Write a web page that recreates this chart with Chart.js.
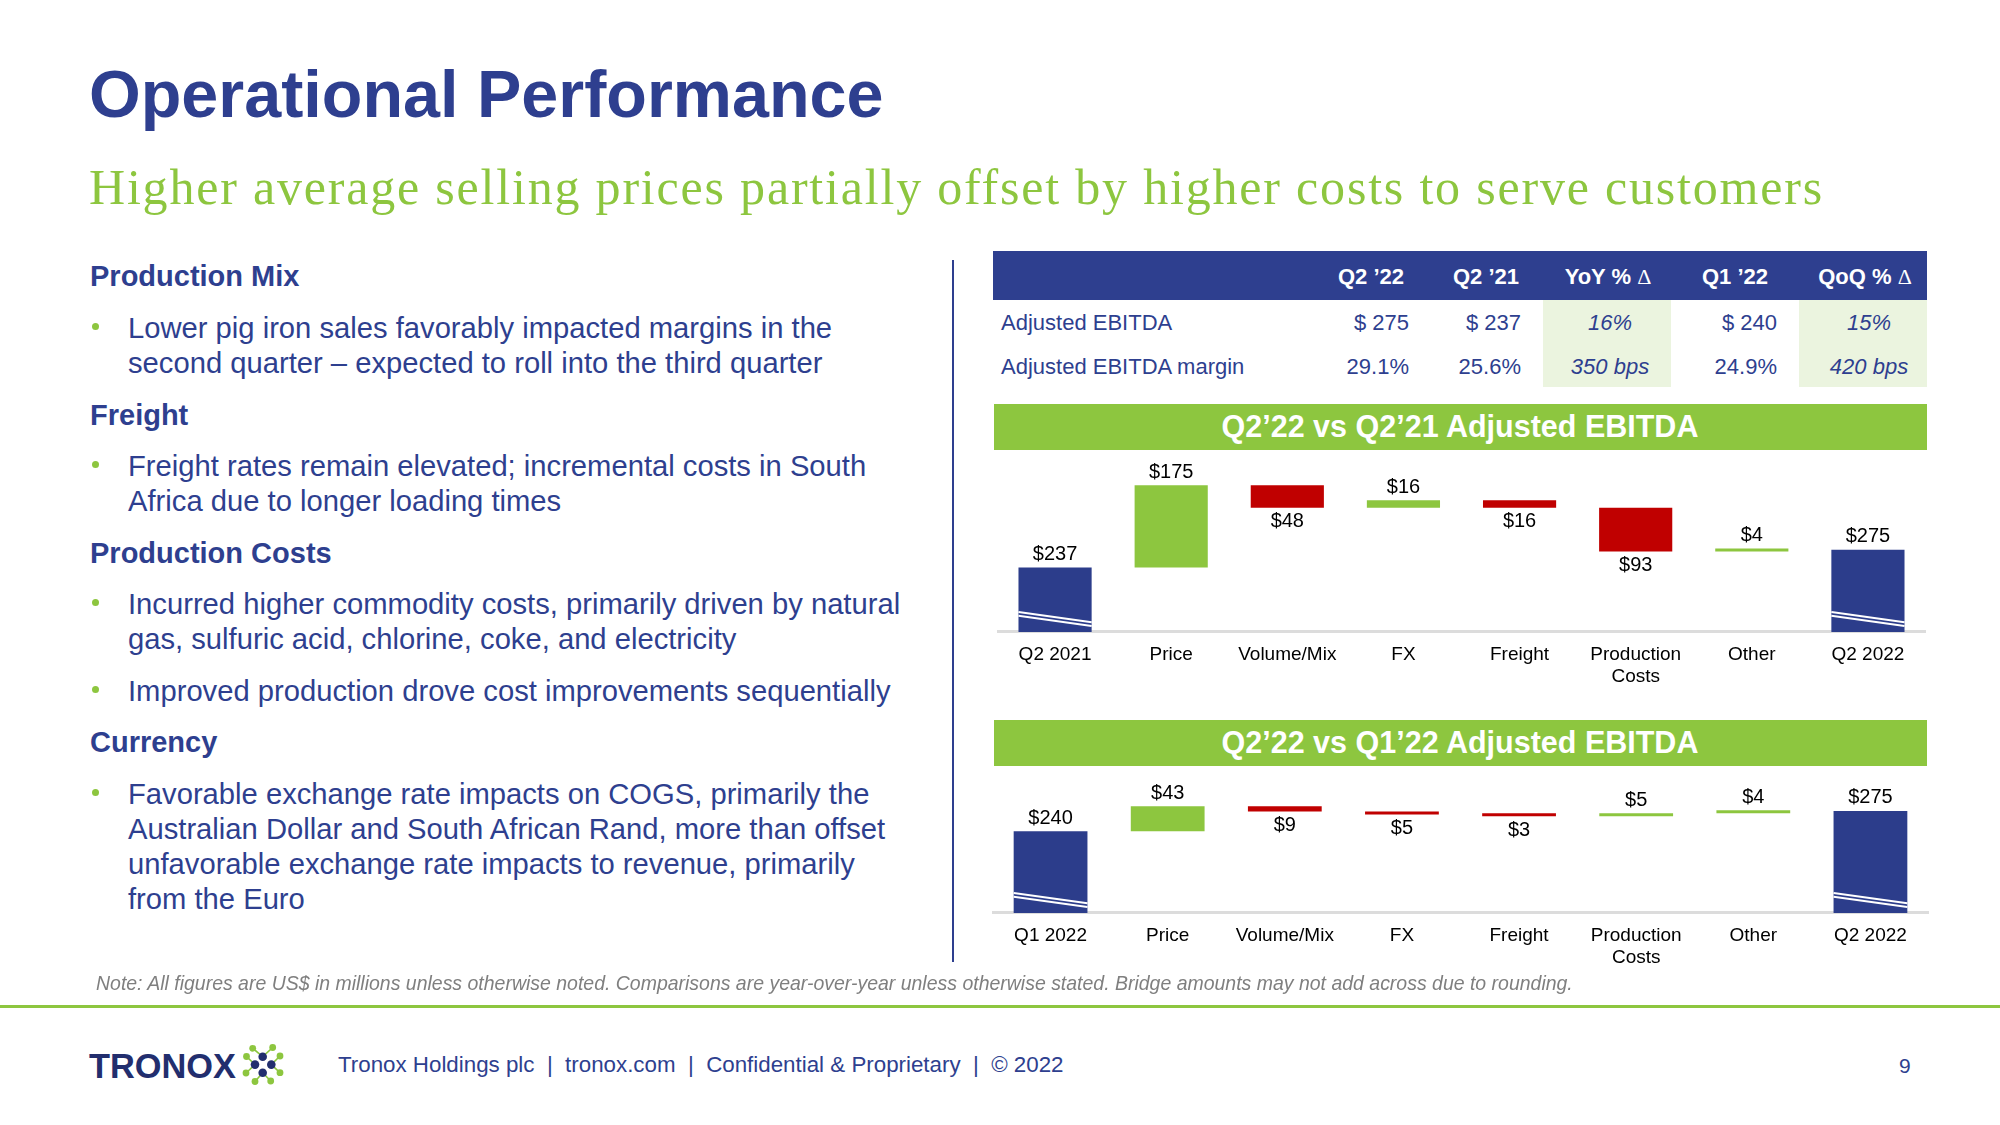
<!DOCTYPE html>
<html><head><meta charset="utf-8">
<script src="https://cdn.jsdelivr.net/npm/chart.js@4.4.1/dist/chart.umd.min.js"></script>
<style>
html,body{margin:0;padding:0;background:#fff;}
#page{position:relative;width:2000px;height:1125px;overflow:hidden;background:#fff;}
.box{position:absolute;}
</style></head><body><div id="page"></div>
<script>
// ---------------- data ----------------
const TITLE = 'Operational Performance';
const SUBTITLE = 'Higher average selling prices partially offset by higher costs to serve customers';

const TABLE_HEADERS = ['Q2 ’22', 'Q2 ’21', 'YoY %', 'Q1 ’22', 'QoQ %'];
const TABLE_ROW_LABELS = ['Adjusted EBITDA', 'Adjusted EBITDA margin'];
const TABLE_EBITDA = ['$ 275', '$ 237', '16%', '$ 240', '15%'];
const TABLE_MARGIN = ['29.1%', '25.6%', '350 bps', '24.9%', '420 bps'];

const BRIDGE1_TITLE = 'Q2’22 vs Q2’21 Adjusted EBITDA';
const BRIDGE1_CATEGORIES = ['Q2 2021', 'Price', 'Volume/Mix', 'FX', 'Freight', ['Production', 'Costs'], 'Other', 'Q2 2022'];
const BRIDGE1_START = 237;
const BRIDGE1_DELTAS = [175, -48, 16, -16, -93, 4];
const BRIDGE1_END = 275;

const BRIDGE2_TITLE = 'Q2’22 vs Q1’22 Adjusted EBITDA';
const BRIDGE2_CATEGORIES = ['Q1 2022', 'Price', 'Volume/Mix', 'FX', 'Freight', ['Production', 'Costs'], 'Other', 'Q2 2022'];
const BRIDGE2_START = 240;
const BRIDGE2_DELTAS = [43, -9, -5, -3, 5, 4];
const BRIDGE2_END = 275;

const AXIS1_MIN = 100, AXIS1_MAX = 487;
const AXIS2_MIN = 100, AXIS2_MAX = 352;

const LEFT_TEXT = [
  ['h', 'Production Mix'],
  ['b', 'Lower pig iron sales favorably impacted margins in the'],
  ['c', 'second quarter – expected to roll into the third quarter'],
  ['h', 'Freight'],
  ['b', 'Freight rates remain elevated; incremental costs in South'],
  ['c', 'Africa due to longer loading times'],
  ['h', 'Production Costs'],
  ['b', 'Incurred higher commodity costs, primarily driven by natural'],
  ['c', 'gas, sulfuric acid, chlorine, coke, and electricity'],
  ['b', 'Improved production drove cost improvements sequentially'],
  ['h', 'Currency'],
  ['b', 'Favorable exchange rate impacts on COGS, primarily the'],
  ['c', 'Australian Dollar and South African Rand, more than offset'],
  ['c', 'unfavorable exchange rate impacts to revenue, primarily'],
  ['c', 'from the Euro']
];
const NOTE = 'Note: All figures are US$ in millions unless otherwise noted. Comparisons are year-over-year unless otherwise stated. Bridge amounts may not add across due to rounding.';
const FOOTER = 'Tronox Holdings plc  |  tronox.com  |  Confidential & Proprietary  |  © 2022';
const PAGE_NO = '9';

// ---------------- styles ----------------
const SANS = '"Liberation Sans", Arial, Helvetica, sans-serif';
const SERIF = '"Liberation Serif", "Times New Roman", serif';
const BLUE = '#2E3F8F';
const NAVY = '#2C3D8B';
const GREEN = '#8DC63F';
const RED = '#C00000';
const CELL_GREEN = '#EBF4DF';
const AXIS_COLOR = '#DCDCDC';

const page = document.getElementById('page');

function rect(x, y, w, h, color) {
  const d = document.createElement('div');
  d.className = 'box';
  d.style.cssText += `left:${x}px;top:${y}px;width:${w}px;height:${h}px;background:${color};`;
  page.appendChild(d);
  return d;
}

function txt(str, x, base, size, o = {}) {
  const d = document.createElement('div');
  if (o.html) d.innerHTML = str; else d.textContent = str;
  const fam = o.family || SANS;
  d.style.cssText = `position:absolute;white-space:nowrap;line-height:1;font-family:${fam};font-size:${size}px;font-weight:${o.bold ? 'bold' : 'normal'};font-style:${o.italic ? 'italic' : 'normal'};color:${o.color || BLUE};`;
  page.appendChild(d);
  if (o.fitW) {
    const w0 = d.getBoundingClientRect().width;
    size = size * o.fitW / w0;
    d.style.fontSize = size + 'px';
  }
  if (o.spaceW) {
    const w0 = d.getBoundingClientRect().width;
    d.style.letterSpacing = ((o.spaceW - w0) / d.textContent.length) + 'px';
  }
  const k = o.k || 0.8465;
  const w = d.getBoundingClientRect().width;
  let left = x;
  if (o.align === 'right') left = x - w;
  else if (o.align === 'center') left = x - w / 2;
  d.style.left = left + 'px';
  d.style.top = (base - k * size) + 'px';
  return d;
}

// ---------------- header ----------------
txt(TITLE, 89, 117, 66.5, { bold: true, color: BLUE });
txt(SUBTITLE, 89, 204, 50, { family: SERIF, color: GREEN, k: 0.8375, spaceW: 1735 });

// ---------------- left column ----------------
const LEFT_BASES = [287, 339, 374, 426, 477, 512, 564, 615, 650, 702, 753, 805, 840, 875, 910];
LEFT_TEXT.forEach(([kind, s], i) => {
  const b = LEFT_BASES[i];
  if (kind === 'h') {
    txt(s, 90, b, 29, { bold: true });
  } else {
    txt(s, 128, b, 29.2);
    if (kind === 'b') {
      const dot = rect(92, b - 16, 7, 7, GREEN);
      dot.style.borderRadius = '50%';
    }
  }
});
rect(952, 260, 2, 702, BLUE);

// ---------------- table ----------------
rect(993, 251, 934, 49, BLUE);
rect(1543, 300, 128, 87, CELL_GREEN);
rect(1799, 300, 128, 87, CELL_GREEN);
const COL_X = [1404, 1519, 1608, 1768, 1865];
const COL_ALIGN = ['right', 'right', 'center', 'right', 'center'];
const VAL_X = [1409, 1521, 1610, 1777, 1869];
TABLE_HEADERS.forEach((h, i) => {
  const delta = (i === 2 || i === 4);
  const html = delta ? h + ' <span style="font-weight:normal;font-family:' + SERIF.replace(/"/g, "'") + '">Δ</span>' : h;
  txt(html, COL_X[i], 285, 22, { bold: true, color: '#fff', align: COL_ALIGN[i], html: true });
});
TABLE_ROW_LABELS.forEach((l, r) => {
  const base = r === 0 ? 331 : 375;
  txt(l, 1001, base, 22);
  const row = r === 0 ? TABLE_EBITDA : TABLE_MARGIN;
  row.forEach((v, i) => {
    const it = (i === 2 || i === 4);
    txt(v, VAL_X[i], base, 22, { align: it ? 'center' : 'right', italic: it });
  });
});

// ---------------- bridge title bars ----------------
rect(994, 404, 933, 46, GREEN);
txt(BRIDGE1_TITLE, 1460, 437, 29, { bold: true, color: '#fff', align: 'center', fitW: 477 });
rect(994, 720, 933, 46, GREEN);
txt(BRIDGE2_TITLE, 1460, 753, 29, { bold: true, color: '#fff', align: 'center', fitW: 477 });

// ---------------- bridge charts ----------------
function bridgeData(start, deltas, end, axisMin) {
  const ranges = [[axisMin, start]];
  const values = [start];
  const kinds = ['total'];
  let cum = start;
  deltas.forEach(d => {
    ranges.push([cum, cum + d]);
    values.push(d);
    kinds.push(d >= 0 ? 'pos' : 'neg');
    cum += d;
  });
  ranges.push([axisMin, end]);
  values.push(end);
  kinds.push('total');
  return { ranges, values, kinds };
}

function makeBridge(x, y, w, h, cats, bd, amin, amax) {
  const c = document.createElement('canvas');
  c.width = w; c.height = h;
  c.style.cssText = `position:absolute;left:${x}px;top:${y}px;width:${w}px;height:${h}px;`;
  page.appendChild(c);
  const colors = bd.kinds.map(k => k === 'total' ? NAVY : (k === 'pos' ? GREEN : RED));
  const labelPlugin = {
    id: 'bridgeLabels',
    afterDatasetsDraw(chart) {
      const ctx = chart.ctx;
      const meta = chart.getDatasetMeta(0);
      ctx.save();
      ctx.font = '20px ' + SANS;
      ctx.fillStyle = '#000';
      ctx.textAlign = 'center';
      ctx.textBaseline = 'middle';
      meta.data.forEach((bar, i) => {
        const p = bar.getProps(['x', 'y', 'base', 'width'], true);
        const top = Math.min(p.y, p.base), bot = Math.max(p.y, p.base);
        const kind = bd.kinds[i];
        ctx.fillText('$' + Math.abs(bd.values[i]), p.x, kind === 'neg' ? bot + 14 : top - 13);
        if (kind === 'total') {
          const l = p.x - p.width / 2, r = p.x + p.width / 2;
          ctx.strokeStyle = '#fff';
          ctx.lineWidth = 2;
          [[20, 9.7], [16.2, 5.9]].forEach(([a, b]) => {
            ctx.beginPath();
            ctx.moveTo(l, bot - a);
            ctx.lineTo(r, bot - b);
            ctx.stroke();
          });
        }
      });
      ctx.restore();
    }
  };
  return new Chart(c, {
    type: 'bar',
    data: {
      labels: cats,
      datasets: [{
        data: bd.ranges,
        backgroundColor: colors,
        borderWidth: 0,
        barPercentage: 0.63,
        categoryPercentage: 1,
        minBarLength: 3
      }]
    },
    options: {
      responsive: false,
      animation: false,
      layout: { padding: 0 },
      plugins: { legend: { display: false }, tooltip: { enabled: false } },
      scales: {
        x: {
          grid: { display: false, drawTicks: false },
          border: { display: true, color: AXIS_COLOR, width: 3 },
          ticks: { color: '#000', font: { family: SANS, size: 19, lineHeight: 1.16 }, padding: 12, maxRotation: 0, autoSkip: false }
        },
        y: { display: false, min: amin, max: amax }
      }
    },
    plugins: [labelPlugin]
  });
}

makeBridge(997, 450, 929, 250, BRIDGE1_CATEGORIES,
  bridgeData(BRIDGE1_START, BRIDGE1_DELTAS, BRIDGE1_END, AXIS1_MIN), AXIS1_MIN, AXIS1_MAX);
makeBridge(992, 766, 937, 215, BRIDGE2_CATEGORIES,
  bridgeData(BRIDGE2_START, BRIDGE2_DELTAS, BRIDGE2_END, AXIS2_MIN), AXIS2_MIN, AXIS2_MAX);

// ---------------- note & footer ----------------
txt(NOTE, 96, 990, 19, { italic: true, color: '#7F7F7F', fitW: 1478 });
rect(0, 1005, 2000, 3, GREEN);
txt('TRONOX', 89, 1078, 34, { bold: true, color: '#222E6E', fitW: 147 });
(function logo() {
  const ns = 'http://www.w3.org/2000/svg';
  const svg = document.createElementNS(ns, 'svg');
  svg.setAttribute('width', '50'); svg.setAttribute('height', '50');
  svg.style.cssText = 'position:absolute;left:238px;top:1040px;';
  const ox = 238, oy = 1040;
  const blue = [[262.7, 1056.7], [255, 1064.6], [271.3, 1064.6], [262.7, 1072.7]];
  const green = [[252.7, 1048.3], [272.7, 1047.5], [246.5, 1056.5], [280, 1056], [246, 1073], [280, 1072.7], [255, 1081.5], [270.7, 1081]];
  const links = [[0, 0], [1, 0], [2, 1], [3, 2], [4, 1], [5, 2], [6, 3], [7, 3]];
  links.forEach(([g, b]) => {
    const l = document.createElementNS(ns, 'line');
    l.setAttribute('x1', green[g][0] - ox); l.setAttribute('y1', green[g][1] - oy);
    l.setAttribute('x2', blue[b][0] - ox); l.setAttribute('y2', blue[b][1] - oy);
    l.setAttribute('stroke', GREEN); l.setAttribute('stroke-width', '1.6');
    svg.appendChild(l);
  });
  green.forEach(([x, y]) => {
    const c = document.createElementNS(ns, 'circle');
    c.setAttribute('cx', x - ox); c.setAttribute('cy', y - oy); c.setAttribute('r', 3.4);
    c.setAttribute('fill', GREEN); svg.appendChild(c);
  });
  blue.forEach(([x, y]) => {
    const c = document.createElementNS(ns, 'circle');
    c.setAttribute('cx', x - ox); c.setAttribute('cy', y - oy); c.setAttribute('r', 4.3);
    c.setAttribute('fill', '#222E6E'); svg.appendChild(c);
  });
  page.appendChild(svg);
})();
txt(FOOTER.replace(/ {2}/g, '\u00a0 '), 338, 1073, 21, { color: BLUE, fitW: 726 });
txt(PAGE_NO, 1899, 1073, 21, { color: BLUE });
</script>
</body></html>
